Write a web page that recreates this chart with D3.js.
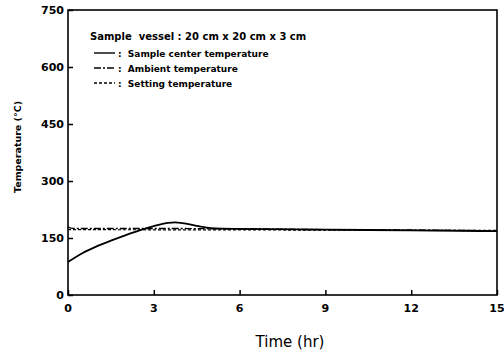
<!DOCTYPE html>
<html>
<head>
<meta charset="utf-8">
<script src="https://cdn.jsdelivr.net/npm/d3@7"></script>
<style>
  body { margin: 0; background: #fff; }
  text { font-family: "DejaVu Sans", sans-serif; fill: #000; }
</style>
</head>
<body>
<div id="viz"></div>
<script>
const w = 504;
const h = 352;

// data
const sampleTime = [0, 0.5, 1, 1.5, 2, 2.5, 3, 3.5, 3.75, 4, 4.5, 5, 6, 9, 12, 15];
const sampleTemp = [87, 110, 128, 143, 157, 170, 181, 190, 191, 189, 182, 176, 174, 172, 170, 168];
const ambientTime = [0, 0.1, 0.4, 3, 6, 9, 12, 15];
const ambientTemp = [179, 176, 175, 175, 174, 172, 171, 169];
const settingTime = [0, 15];
const settingTemp = [172, 170];
const xTicks = [0, 3, 6, 9, 12, 15];
const yTicks = [0, 150, 300, 450, 600, 750];
const legendLabels = ['Sample center temperature', 'Ambient temperature', 'Setting temperature'];
const legendDash = ['none', '7,2,2,2', '3,2'];

const plotLeft = 68, plotRight = 497, plotTop = 10, plotBottom = 295;

const svg = d3.select('#viz').append('svg')
    .attr('width', w)
    .attr('height', h)

let x = d3.scaleLinear().domain([0, 15]).range([plotLeft, plotRight]);
let y = d3.scaleLinear().domain([0, 750]).range([plotBottom, plotTop]);

// frame
svg.append('rect')
    .attr('x', plotLeft).attr('y', plotTop)
    .attr('width', plotRight - plotLeft).attr('height', plotBottom - plotTop)
    .attr('fill', 'none').attr('stroke', '#000').attr('stroke-width', 1.6)

// x axis
let xAxis = svg.append('g')
    .attr('transform', `translate(0,${plotBottom})`)
    .call(d3.axisTop(x).tickValues(xTicks).tickSize(5).tickFormat(''))
xAxis.select('.domain').remove()
xAxis.selectAll('line').attr('stroke-width', 1.5)
svg.append('g').selectAll('text')
    .data(xTicks).join('text')
    .attr('x', d => x(d)).attr('y', plotBottom + 17)
    .attr('text-anchor', 'middle')
    .attr('font-size', 11).attr('font-weight', 'bold')
    .text(d => d)

// y axis
let yAxis = svg.append('g')
    .attr('transform', `translate(${plotLeft},0)`)
    .call(d3.axisRight(y).tickValues(yTicks).tickSize(5).tickFormat(''))
yAxis.select('.domain').remove()
yAxis.selectAll('line').attr('stroke-width', 1.5)
svg.append('g').selectAll('text')
    .data(yTicks).join('text')
    .attr('x', plotLeft - 4).attr('y', d => y(d) + 4)
    .attr('text-anchor', 'end')
    .attr('font-size', 11).attr('font-weight', 'bold')
    .text(d => d)

// axis titles
svg.append('text')
    .attr('transform', `translate(21,147) rotate(-90)`)
    .attr('text-anchor', 'middle')
    .attr('font-size', 9.5).attr('font-weight', 'bold')
    .text('Temperature  (°C)')

svg.append('text')
    .attr('x', 290).attr('y', 347)
    .attr('text-anchor', 'middle')
    .attr('font-size', 15)
    .text('Time  (hr)')

// lines
let line = d3.line()
    .x(d => x(d[0]))
    .y(d => y(d[1]))
    .curve(d3.curveMonotoneX)

svg.append('path')
    .attr('d', line(d3.zip(settingTime, settingTemp)))
    .attr('fill', 'none').attr('stroke', '#000')
    .attr('stroke-width', 1.2).attr('stroke-dasharray', legendDash[2])

svg.append('path')
    .attr('d', line(d3.zip(ambientTime, ambientTemp)))
    .attr('fill', 'none').attr('stroke', '#000')
    .attr('stroke-width', 1.4).attr('stroke-dasharray', legendDash[1])

svg.append('path')
    .attr('d', line(d3.zip(sampleTime, sampleTemp)))
    .attr('fill', 'none').attr('stroke', '#000')
    .attr('stroke-width', 1.8)

// legend
let legend = svg.append('g')

legend.append('text')
    .attr('x', 90).attr('y', 40)
    .attr('font-size', 10).attr('font-weight', 'bold')
    .attr('xml:space', 'preserve')
    .text('Sample  vessel : 20 cm x 20 cm x 3 cm')

let rows = legend.selectAll('g.row')
    .data(legendLabels).join('g')
    .attr('class', 'row')
    .attr('transform', (d, i) => `translate(0,${53 + i * 15})`)

rows.append('line')
    .attr('x1', 94).attr('x2', 115)
    .attr('y1', 0).attr('y2', 0)
    .attr('stroke', '#000').attr('stroke-width', 1.4)
    .attr('stroke-dasharray', (d, i) => legendDash[i])

rows.append('text')
    .attr('x', 118).attr('y', 3.5)
    .attr('font-size', 9).attr('font-weight', 'bold')
    .attr('xml:space', 'preserve')
    .text(d => ':  ' + d)
</script>
</body>
</html>
